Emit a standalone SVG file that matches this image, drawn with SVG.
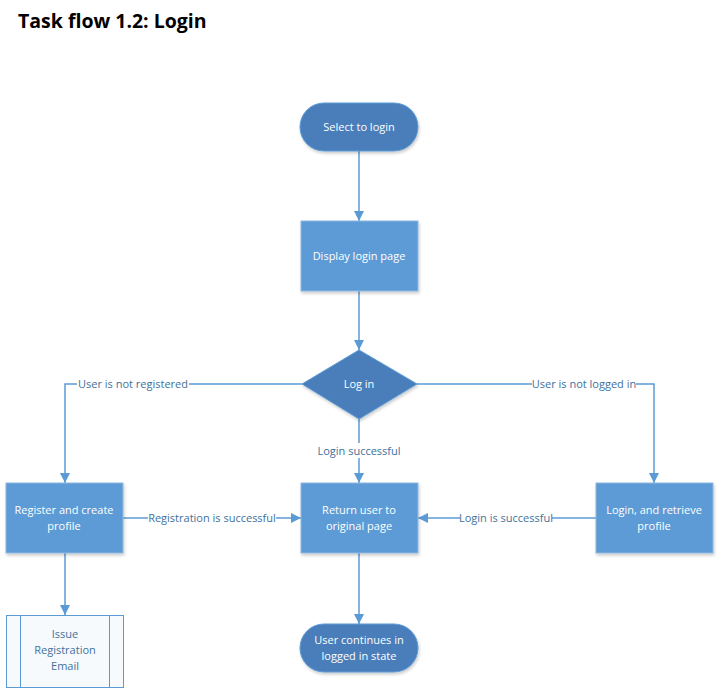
<svg xmlns="http://www.w3.org/2000/svg" width="720" height="688" viewBox="0 0 720 688">
<defs>
<marker id="arr" viewBox="0 0 10 10" refX="10" refY="5" markerWidth="10" markerHeight="10" markerUnits="userSpaceOnUse" orient="auto">
<path d="M0,0 L10,5 L0,10 z" fill="#5b9bd5"/>
</marker>
<filter id="sh" x="-10%" y="-10%" width="130%" height="130%">
<feDropShadow dx="1" dy="2" stdDeviation="1.5" flood-color="#000" flood-opacity="0.2"/>
</filter>
</defs>
<style>
.term{fill:#4a7ebb;stroke:#5b9bd5;stroke-width:1;filter:url(#sh)}
.proc{fill:#5b9bd5;stroke:#8fb8e0;stroke-width:1;filter:url(#sh)}
.sub{fill:#f7fafd;stroke:#5b9bd5;stroke-width:1}
.nt{font-family:"Open Sans","Liberation Sans",sans-serif;font-size:11px;fill:#ffffff;text-anchor:middle}
.st{font-family:"Open Sans","Liberation Sans",sans-serif;font-size:11px;fill:#41719c;text-anchor:middle}
.lb{font-family:"Open Sans","Liberation Sans",sans-serif;font-size:11px;fill:#41719c;text-anchor:middle}
.ln{fill:none;stroke:#5b9bd5;stroke-width:1.5}
.bg{fill:#ffffff}
.title{font-family:"Open Sans","Liberation Sans",sans-serif;font-size:19.5px;font-weight:bold;fill:#000000}
</style>
<rect x="0" y="0" width="720" height="688" fill="#ffffff"/>
<text class="title" x="18" y="28">Task flow 1.2: Login</text>

<g id="connectors">
<path class="ln" d="M359,151 V221" marker-end="url(#arr)"/>
<path class="ln" d="M359,291 V350" marker-end="url(#arr)"/>
<path class="ln" d="M359,419 V483" marker-end="url(#arr)"/>
<path class="ln" d="M359,553 V624" marker-end="url(#arr)"/>
<path class="ln" d="M302,384 H65 V483" marker-end="url(#arr)"/>
<path class="ln" d="M417,384 H654 V483" marker-end="url(#arr)"/>
<path class="ln" d="M123,518 H301" marker-end="url(#arr)"/>
<path class="ln" d="M596,518 H418" marker-end="url(#arr)"/>
<path class="ln" d="M65,553 V615" marker-end="url(#arr)"/>
<rect class="bg" x="310" y="443" width="98" height="15"/>
<text class="lb" x="359" y="455">Login successful</text>
<rect class="bg" x="77" y="377" width="112" height="15"/>
<text class="lb" x="133" y="388">User is not registered</text>
<rect class="bg" x="532" y="377" width="104" height="15"/>
<text class="lb" x="584" y="388">User is not logged in</text>
<rect class="bg" x="148" y="511" width="128" height="15"/>
<text class="lb" x="212" y="522">Registration is successful</text>
<rect class="bg" x="460" y="511" width="92" height="15"/>
<text class="lb" x="506" y="522">Login is successful</text>
</g>

<g id="select-login">
<rect class="term" x="300" y="103" width="118" height="48" rx="24" ry="24"/>
<text class="nt" x="359" y="131">Select to login</text>
</g>
<g id="display-login">
<rect class="proc" x="301" y="221" width="117" height="70"/>
<text class="nt" x="359" y="260">Display login page</text>
</g>
<g id="log-in">
<polygon class="term" points="359,350 417,384 359,419 302,384"/>
<text class="nt" x="359" y="388">Log in</text>
</g>
<g id="register">
<rect class="proc" x="6" y="483" width="117" height="70"/>
<text class="nt" x="64" y="514">Register and create</text>
<text class="nt" x="64" y="530">profile</text>
</g>
<g id="return-user">
<rect class="proc" x="301" y="483" width="117" height="70"/>
<text class="nt" x="359" y="514">Return user to</text>
<text class="nt" x="359" y="530">original page</text>
</g>
<g id="login-retrieve">
<rect class="proc" x="596" y="483" width="117" height="70"/>
<text class="nt" x="654" y="514">Login, and retrieve</text>
<text class="nt" x="654" y="530">profile</text>
</g>
<g id="issue-email">
<rect class="sub" x="6.5" y="615.5" width="117" height="72"/>
<line x1="20.5" y1="615.5" x2="20.5" y2="687.5" stroke="#5b9bd5" stroke-width="1"/>
<line x1="109.5" y1="615.5" x2="109.5" y2="687.5" stroke="#5b9bd5" stroke-width="1"/>
<text class="st" x="65" y="638">Issue</text>
<text class="st" x="65" y="654">Registration</text>
<text class="st" x="65" y="670">Email</text>
</g>
<g id="user-continues">
<rect class="term" x="300" y="624" width="118" height="48" rx="24" ry="24"/>
<text class="nt" x="359" y="644">User continues in</text>
<text class="nt" x="359" y="660">logged in state</text>
</g>
</svg>
